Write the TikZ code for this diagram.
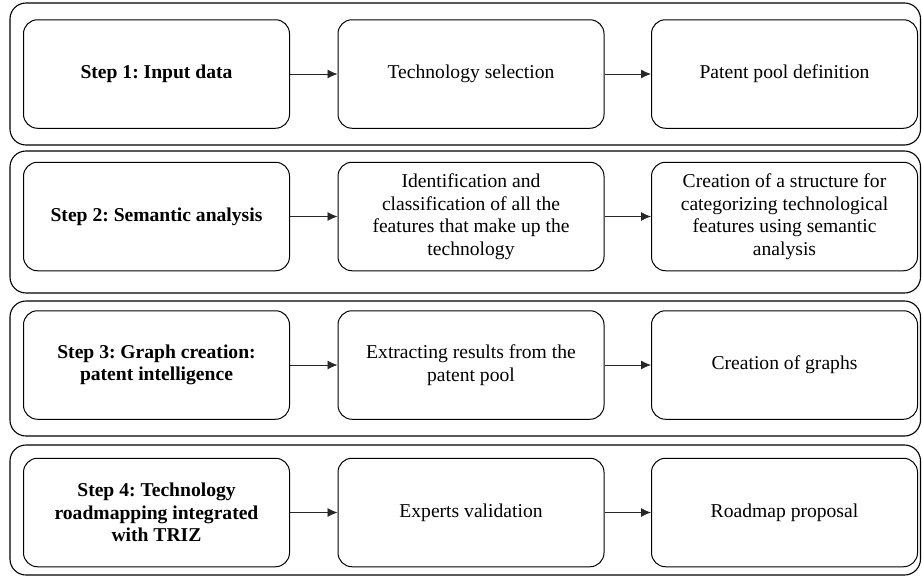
\documentclass[tikz,border=0pt]{standalone}
\usepackage{fontspec}
\setmainfont{Liberation Serif}
\usetikzlibrary{arrows.meta}
\frenchspacing

\begin{document}
\begin{tikzpicture}[x=1pt, y=-1pt,
		stepframe/.style={draw, line width=1.1pt, rounded corners=16pt},
		stepbox/.style={draw, line width=1pt, rounded corners=14pt, align=center,
			minimum width=266pt, minimum height=108.5pt, inner sep=0pt,
			font=\fontsize{19.6}{22.5}\selectfont},
		flow/.style={-{Latex[length=10pt,width=9pt]}, line width=0.8pt, black!85}]
	%%%%% START %%%%%
	
	\useasboundingbox (0, 0) rectangle (922, 576);
	
	% frames round each step
	\draw[stepframe] (10, 3) rectangle (920.5, 145);
	\draw[stepframe] (10, 151) rectangle (920.5, 293);
	\draw[stepframe] (10, 301) rectangle (920.5, 436);
	\draw[stepframe] (10, 445) rectangle (920.5, 575);
	
	% step 1
	\node[stepbox] (s1) at (156.5, 74) {\textbf{Step 1: Input data}};
	\node[stepbox] (s1b) at (471, 74) {Technology selection};
	\node[stepbox] (s1c) at (784.5, 74) {Patent pool definition};
	
	% step 2
	\node[stepbox] (s2) at (156.5, 216.5) {\textbf{Step 2: Semantic analysis}};
	\node[stepbox] (s2b) at (471, 216.5) {Identification and\\classification of all the\\features that make up the\\technology};
	\node[stepbox] (s2c) at (784.5, 216.5) {Creation of a structure for\\categorizing technological\\features using semantic\\analysis};
	
	% step 3
	\node[stepbox] (s3) at (156.5, 365) {\textbf{Step 3: Graph creation:}\\\textbf{patent intelligence}};
	\node[stepbox] (s3b) at (471, 365) {Extracting results from the\\patent pool};
	\node[stepbox] (s3c) at (784.5, 365) {Creation of graphs};
	
	% step 4
	\node[stepbox] (s4) at (156.5, 512.5) {\textbf{Step 4: Technology}\\\textbf{roadmapping integrated}\\\textbf{with TRIZ}};
	\node[stepbox] (s4b) at (471, 512.5) {Experts validation};
	\node[stepbox] (s4c) at (784.5, 512.5) {Roadmap proposal};
	
	\draw[flow] (s1) -- (s1b);
	\draw[flow] (s1b) -- (s1c);
	\draw[flow] (s2) -- (s2b);
	\draw[flow] (s2b) -- (s2c);
	\draw[flow] (s3) -- (s3b);
	\draw[flow] (s3b) -- (s3c);
	\draw[flow] (s4) -- (s4b);
	\draw[flow] (s4b) -- (s4c);
	
	%%%%% END %%%%%
\end{tikzpicture}
\end{document}
